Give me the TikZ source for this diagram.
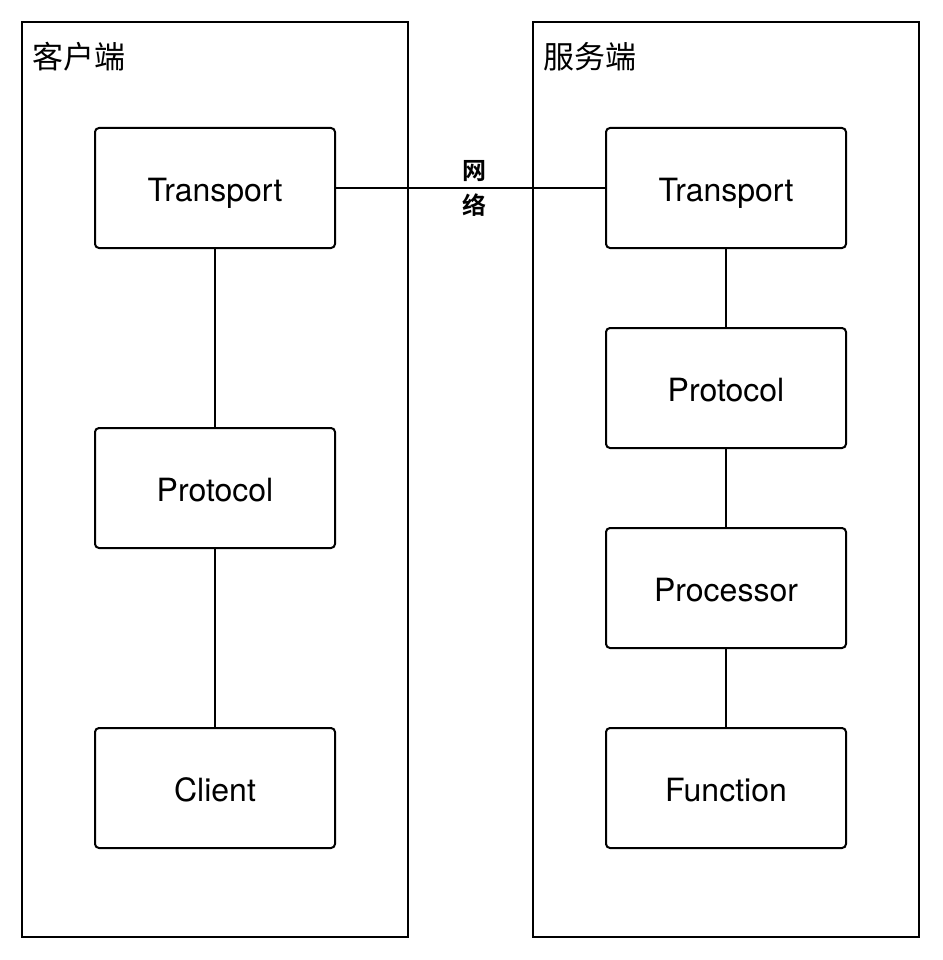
\documentclass[tikz,border=0pt]{standalone}
\usepackage{fontspec}
\setmainfont{TeX Gyre Heros}
\newfontfamily\cjk{Noto Sans CJK SC}[BoldFont={Noto Sans CJK SC Bold}]
\usetikzlibrary{positioning}
\tikzstyle{side} = [draw, line width=2pt, minimum width=386pt, minimum height=915pt, inner sep=0pt]
\tikzstyle{sidetitle} = [anchor=west, inner sep=0pt, font=\cjk\fontsize{31}{34}\selectfont]
\tikzstyle{layer} = [draw, line width=2pt, fill=white, rounded corners=4pt, text centered, text height=27pt, text depth=0pt, minimum width=240pt, minimum height=120pt, font=\fontsize{32}{36}\selectfont]
\tikzstyle{nettext} = [align=center, inner sep=0pt, font=\cjk\bfseries\fontsize{24}{35}\selectfont]
\tikzstyle{line} = [draw, line width=2pt]
\newcommand{\side}[1]{node (#1side) [side] {}}
\newcommand{\client}[2]{node (c#1) [layer] {#2}}
\newcommand{\server}[2]{node (s#1) [layer] {#2}}
\begin{document}
\begin{tikzpicture}[x=1pt,y={(0pt,-1pt)}]
\useasboundingbox (0,0) rectangle (942,960);
\path (215,479.5) \side{c};
\path (726,479.5) \side{s};
\path (cside.north west)+(11,36) node (ct) [sidetitle] {客户端};
\path (sside.north west)+(11,36) node (st) [sidetitle] {服务端};

\path (215,188) \client{1}{Transport};
\path (c1)+(0,300) \client{2}{Protocol};
\path [line] (c1.south) -- (c2.north);
\path (c2)+(0,300) \client{3}{Client};
\path [line] (c2.south) -- (c3.north);

\path (726,188) \server{1}{Transport};
\path (s1)+(0,200) \server{2}{Protocol};
\path [line] (s1.south) -- (s2.north);
\path (s2)+(0,200) \server{3}{Processor};
\path [line] (s2.south) -- (s3.north);
\path (s3)+(0,200) \server{4}{Function};
\path [line] (s3.south) -- (s4.north);

\path [line] (c1.east) -- (s1.west) node[nettext, midway, xshift=3.5pt] {网\\络};
\end{tikzpicture}
\end{document}
